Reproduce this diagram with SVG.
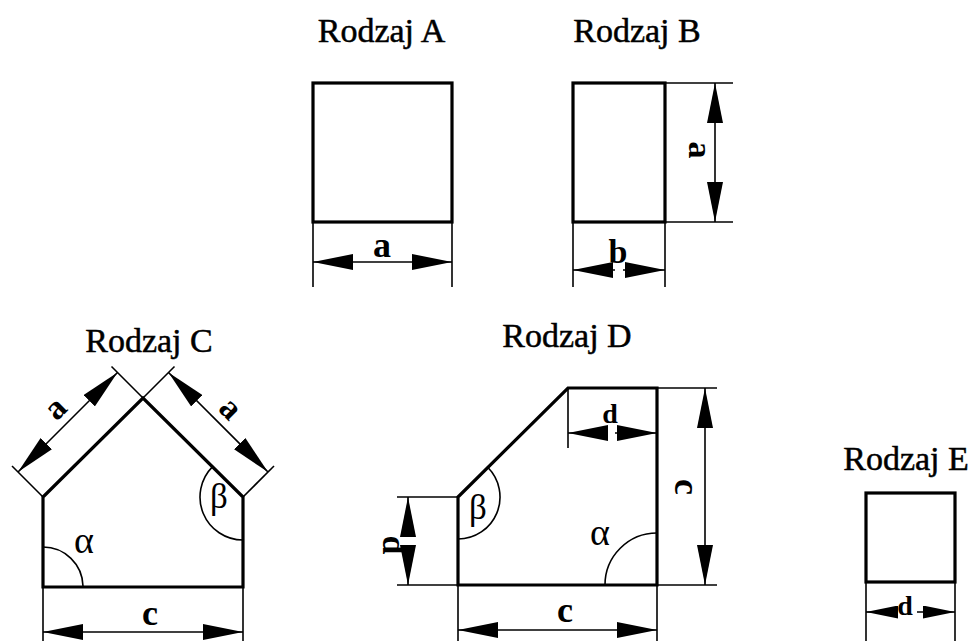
<svg xmlns="http://www.w3.org/2000/svg" width="972" height="641" viewBox="0 0 972 641">
<defs>
<marker id="ar" viewBox="0 0 40 16" refX="40" refY="8" markerWidth="40" markerHeight="16" markerUnits="userSpaceOnUse" orient="auto-start-reverse"><path d="M0,0 L40,8 L0,16 z" fill="#000"/></marker>
<marker id="ars" viewBox="0 0 32 13" refX="32" refY="6.5" markerWidth="32" markerHeight="13" markerUnits="userSpaceOnUse" orient="auto-start-reverse"><path d="M0,0 L32,6.5 L0,13 z" fill="#000"/></marker>
</defs>
<style>
.title{font-family:"Liberation Serif","Times New Roman",serif;font-size:34px;fill:#000;stroke:#000;stroke-width:0.5}
.lab{font-family:"Liberation Serif","Times New Roman",serif;font-weight:bold;fill:#000;text-anchor:middle}
.gr{font-family:"Liberation Serif","Times New Roman",serif;fill:#000;text-anchor:middle}
.shape{fill:none;stroke:#000;stroke-width:3.2;stroke-linejoin:miter}
.ext{fill:none;stroke:#000;stroke-width:1.6}
.dim{fill:none;stroke:#000;stroke-width:1.6;marker-end:url(#ar)}
.dim2{fill:none;stroke:#000;stroke-width:1.6;marker-start:url(#ar);marker-end:url(#ar)}
.dims{fill:none;stroke:#000;stroke-width:1.6;marker-end:url(#ars)}
.arc{fill:none;stroke:#000;stroke-width:1.6}
</style>
<rect width="972" height="641" fill="#fff"/>

<g id="rodzajA">
<text class="title" x="381.5" y="42" text-anchor="middle">Rodzaj A</text>
<rect class="shape" x="313" y="83" width="139" height="139"/>
</g>

<g id="rodzajB">
<text class="title" x="637" y="42" text-anchor="middle">Rodzaj B</text>
<rect class="shape" x="573" y="83" width="92" height="139"/>
</g>

<g id="rodzajC">
<text class="title" x="149" y="352" text-anchor="middle">Rodzaj C</text>
<polygon class="shape" points="43,587 43,497 143,398 243,497 243,587"/>
<path class="arc" d="M43,547 A40,40 0 0 1 83,586"/>
<path class="arc" d="M212.6,466.6 A43,43 0 0 0 243,540"/>
<text class="gr" x="84" y="553" font-size="38">α</text>
<text class="gr" x="219" y="508" font-size="35">β</text>
</g>

<g id="rodzajD">
<text class="title" x="567" y="347" text-anchor="middle">Rodzaj D</text>
<polygon class="shape" points="458,585 458,497 568,388 657,388 657,585"/>
<path class="arc" d="M487.7,467.3 A42,42 0 0 1 458,539"/>
<path class="arc" d="M657,533 A52,52 0 0 0 605,585"/>
<text class="gr" x="478" y="519" font-size="35">β</text>
<text class="gr" x="600" y="545" font-size="38">α</text>
</g>

<g id="rodzajE">
<text class="title" x="906" y="470" text-anchor="middle">Rodzaj E</text>
<rect class="shape" x="866" y="493" width="89" height="89"/>
</g>

<g id="connectors">
<line class="ext" x1="313" y1="222" x2="313" y2="287"/>
<line class="ext" x1="452" y1="222" x2="452" y2="287"/>
<line class="dim2" x1="313" y1="262" x2="452" y2="262"/>
<line class="ext" x1="573" y1="222" x2="573" y2="287"/>
<line class="ext" x1="665" y1="222" x2="665" y2="287"/>
<line class="ext" x1="665" y1="83" x2="733" y2="83"/>
<line class="ext" x1="665" y1="222" x2="733" y2="222"/>
<line class="dim2" x1="715" y1="83" x2="715" y2="222"/>
<line class="dim" x1="615" y1="270" x2="573" y2="270"/>
<line class="dim" x1="623" y1="270" x2="665" y2="270"/>
<line class="ext" x1="143" y1="398" x2="111.5" y2="366.5"/>
<line class="ext" x1="43" y1="497" x2="12" y2="466"/>
<line class="ext" x1="143" y1="398" x2="174.5" y2="366.5"/>
<line class="ext" x1="243" y1="497" x2="274" y2="466"/>
<line class="dim2" x1="18" y1="472" x2="117.5" y2="372.5"/>
<line class="dim2" x1="268" y1="472" x2="168.5" y2="372.5"/>
<line class="ext" x1="43" y1="587" x2="43" y2="641"/>
<line class="ext" x1="243" y1="587" x2="243" y2="641"/>
<line class="dim2" x1="43" y1="632" x2="243" y2="632"/>
<line class="ext" x1="657" y1="388" x2="717" y2="388"/>
<line class="ext" x1="657" y1="585" x2="717" y2="585"/>
<line class="dim2" x1="705" y1="388" x2="705" y2="585"/>
<line class="ext" x1="568" y1="388" x2="568" y2="448"/>
<line class="dim" x1="607" y1="433" x2="568" y2="433"/>
<line class="dim" x1="615" y1="433" x2="657" y2="433"/>
<line class="ext" x1="397" y1="497" x2="458" y2="497"/>
<line class="ext" x1="397" y1="585" x2="458" y2="585"/>
<line class="dim" x1="408" y1="535" x2="408" y2="497"/>
<line class="dim" x1="408" y1="547" x2="408" y2="585"/>
<line class="ext" x1="458" y1="585" x2="458" y2="641"/>
<line class="ext" x1="657" y1="585" x2="657" y2="641"/>
<line class="dim2" x1="458" y1="630" x2="657" y2="630"/>
<line class="ext" x1="866" y1="582" x2="866" y2="641"/>
<line class="ext" x1="955" y1="582" x2="955" y2="641"/>
<line class="dims" x1="895" y1="612" x2="866" y2="612"/>
<line class="dims" x1="917" y1="612" x2="955" y2="612"/>
</g>

<g id="labels">
<text class="lab" x="382" y="257" font-size="36">a</text>
<text class="lab" x="618" y="263" font-size="34">b</text>
<text class="lab" font-size="34" transform="translate(689,150) rotate(90)">a</text>
<text class="lab" font-size="34" transform="translate(57,410) rotate(-45)" y="8">a</text>
<text class="lab" font-size="34" transform="translate(229,410) rotate(45)" y="8">a</text>
<text class="lab" x="150" y="625" font-size="36">c</text>
<text class="lab" font-size="36" transform="translate(675,487) rotate(90)">c</text>
<text class="lab" x="610" y="423" font-size="28">d</text>
<text class="lab" font-size="34" transform="translate(383,545) rotate(90)">d</text>
<text class="lab" x="565" y="622" font-size="36">c</text>
<text class="lab" x="905" y="615" font-size="28">d</text>
</g>
</svg>
